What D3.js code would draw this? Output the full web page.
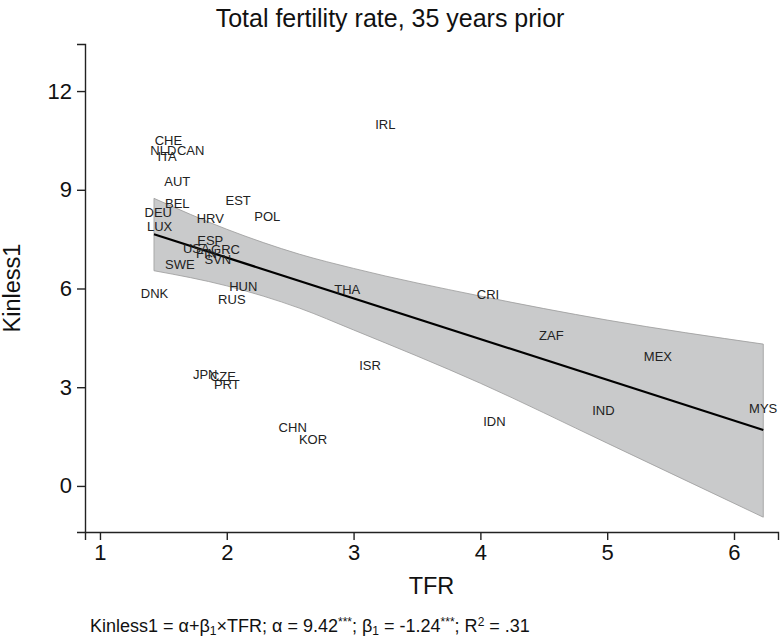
<!DOCTYPE html>
<html>
<head>
<meta charset="utf-8">
<script src="https://cdn.jsdelivr.net/npm/d3@7"></script>
<style>
  html, body { margin: 0; padding: 0; background: #fff; }
  svg { display: block; font-family: "Liberation Sans", Arial, Helvetica, sans-serif; }
</style>
</head>
<body>
<svg id="chart" width="780" height="638"></svg>
<script>
// ---- data ----
const countries = ["CHE","NLD","CAN","ITA","AUT","BEL","DEU","LUX","EST","POL","HRV","ESP","USA","GRC","FIN","SVN","SWE","DNK","HUN","RUS","JPN","CZE","PRT","CHN","KOR","ISR","IRL","THA","CRI","ZAF","MEX","IND","MYS","IDN"];
const tfr = [1.54,1.50,1.715,1.53,1.61,1.61,1.46,1.47,2.09,2.32,1.87,1.87,1.76,1.99,1.84,1.93,1.63,1.43,2.13,2.04,1.83,1.97,2.00,2.52,2.68,3.13,3.25,2.95,4.06,4.56,5.40,4.97,6.23,4.11];
const kinless = [10.51,10.21,10.21,10.00,9.24,8.59,8.30,7.90,8.69,8.20,8.13,7.47,7.22,7.20,7.05,6.89,6.74,5.85,6.05,5.68,3.40,3.32,3.07,1.77,1.40,3.65,10.99,5.98,5.81,4.58,3.95,2.29,2.36,1.97];

// fitted line and 95% CI band
const fitX = [1.426, 6.231];
const fitY = [7.65, 1.70];
const ciX    = [1.426, 2.0,  2.575, 3.0,  4.0,  5.0,  6.231];
const ciHigh = [8.74,  7.80, 7.04,  6.61, 5.77, 5.04, 4.31];
const ciLow  = [6.54,  6.08, 5.40,  4.74, 3.12, 1.30, -0.95];

const xTicks = [1,2,3,4,5,6];
const yTicks = [0,3,6,9,12];

const titleText = "Total fertility rate, 35 years prior";
const xTitle = "TFR";
const yTitle = "Kinless1";

// ---- layout ----
const svg = d3.select("#chart");
const mLeft = 85, mRight = 778, mTop = 44, mBottom = 532;

const x = d3.scaleLinear().domain([0.882, 6.347]).range([mLeft, mRight]);
const y = d3.scaleLinear().domain([-1.40, 13.43]).range([mBottom, mTop]);

// CI band
const band = ciX.map((d, i) => ({x: d, lo: ciLow[i], hi: ciHigh[i]}));
svg.append("path")
  .datum(band)
  .attr("d", d3.area().x(d => x(d.x)).y0(d => y(d.lo)).y1(d => y(d.hi)).curve(d3.curveMonotoneX))
  .attr("fill", "#c9cacb")
  .attr("stroke", "#9a9a9a")
  .attr("stroke-width", 0.8);

// fit line
svg.append("path")
  .datum(fitX.map((d, i) => [d, fitY[i]]))
  .attr("d", d3.line().x(d => x(d[0])).y(d => y(d[1])))
  .attr("fill", "none")
  .attr("stroke", "#000")
  .attr("stroke-width", 2.2);

// labels
svg.append("g").selectAll("text")
  .data(countries.map((c, i) => ({c, x: tfr[i], y: kinless[i]})))
  .join("text")
  .attr("x", d => x(d.x))
  .attr("y", d => y(d.y))
  .attr("text-anchor", "middle")
  .attr("dy", "0.35em")
  .attr("font-size", 13)
  .attr("fill", "#222")
  .text(d => d.c);

// axes
const xAxis = svg.append("g")
  .attr("transform", `translate(0,${mBottom})`)
  .call(d3.axisBottom(x).tickValues(xTicks).tickFormat(d3.format("d")).tickSizeOuter(0).tickSize(8).tickPadding(4));
const yAxis = svg.append("g")
  .attr("transform", `translate(${mLeft},0)`)
  .call(d3.axisLeft(y).tickValues(yTicks).tickFormat(d3.format("d")).tickSizeOuter(0).tickSize(8).tickPadding(5));
[xAxis, yAxis].forEach(g => {
  g.select(".domain").attr("stroke", "#222").attr("stroke-width", 1.4);
  g.selectAll(".tick line").attr("stroke", "#222").attr("stroke-width", 1.4);
  g.selectAll(".tick text").attr("font-size", 22).attr("fill", "#111")
    .attr("font-family", "'Liberation Sans', Arial, Helvetica, sans-serif");
});

// titles
svg.append("text")
  .attr("x", 390).attr("y", 27)
  .attr("text-anchor", "middle")
  .attr("font-size", 25)
  .attr("fill", "#111")
  .text(titleText);

svg.append("text")
  .attr("x", (mLeft + mRight) / 2).attr("y", 594)
  .attr("text-anchor", "middle")
  .attr("font-size", 23.5)
  .attr("fill", "#111")
  .text(xTitle);

svg.append("text")
  .attr("transform", `translate(20,${(mTop + mBottom) / 2}) rotate(-90)`)
  .attr("text-anchor", "middle")
  .attr("font-size", 23.5)
  .attr("fill", "#111")
  .text(yTitle);

// formula note
const note = svg.append("text")
  .attr("x", 90).attr("y", 632)
  .attr("font-size", 18)
  .attr("fill", "#111");
const parts = [
  ["Kinless1 = α+β", null], ["1", "sub"], ["×TFR; α = 9.42", null], ["***", "sup"],
  ["; β", null], ["1", "sub"], [" = -1.24", null], ["***", "sup"],
  ["; R", null], ["2", "sup"], [" = .31", null]
];
parts.forEach(([t, k]) => {
  const ts = note.append("tspan").text(t);
  if (k === "sub") ts.attr("font-size", 12).attr("baseline-shift", "-3");
  if (k === "sup") ts.attr("font-size", 12).attr("baseline-shift", "6");
});
</script>
</body>
</html>
